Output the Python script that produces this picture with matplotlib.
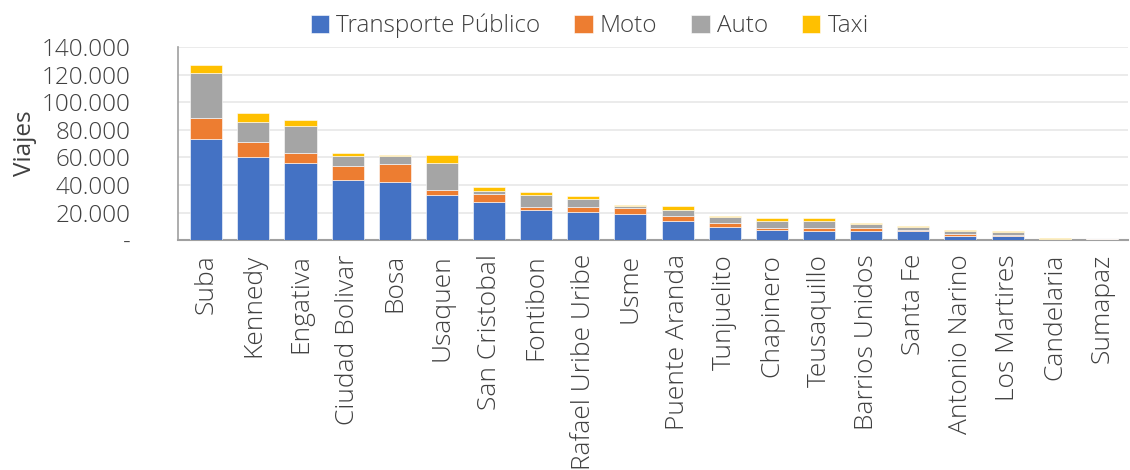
import matplotlib
matplotlib.use("Agg")
import matplotlib.pyplot as plt
from matplotlib.ticker import FuncFormatter

categories = ["Suba", "Kennedy", "Engativa", "Ciudad Bolivar", "Bosa", "Usaquen",
              "San Cristobal", "Fontibon", "Rafael Uribe Uribe", "Usme", "Puente Aranda",
              "Tunjuelito", "Chapinero", "Teusaquillo", "Barrios Unidos", "Santa Fe",
              "Antonio Narino", "Los Martires", "Candelaria", "Sumapaz"]
transporte_publico = [73000, 60000, 55700, 43900, 42200, 33000, 27800, 21900, 20500, 19000,
                      14000, 9600, 7500, 7000, 6500, 6500, 3100, 3100, 200, 100]
moto = [15700, 11100, 7700, 9800, 12700, 3600, 5800, 2200, 3600, 4400,
        3600, 2700, 1400, 1700, 2200, 700, 1500, 300, 100, 700]
auto = [32800, 14200, 19300, 7500, 6300, 19100, 2100, 8700, 5500, 1700,
        4300, 4300, 5300, 5500, 3100, 2000, 1900, 2600, 700, 0]
taxi = [5300, 6800, 4300, 1700, 700, 6000, 2800, 1900, 2700, 700,
        2900, 1200, 2200, 2200, 500, 1200, 700, 300, 300, 0]
series_names = ["Transporte Público", "Moto", "Auto", "Taxi"]
colors = ["#4472C4", "#ED7D31", "#A5A5A5", "#FFC000"]
yticks = [0, 20000, 40000, 60000, 80000, 100000, 120000, 140000]

plt.rcParams['font.family'] = ['Open Sans', 'DejaVu Sans']
plt.rcParams['font.weight'] = 'light'
txt = "#404040"
FS = 17.5

fig = plt.figure(figsize=(11.3, 4.7), dpi=100)
ax = fig.add_axes([0.1575, 0.489, 0.8405, 0.411])

x = list(range(len(categories)))
bottom = [0] * len(categories)
for name, vals, c in zip(series_names, [transporte_publico, moto, auto, taxi], colors):
    ax.bar(x, vals, bottom=bottom, width=0.68, color=c, label=name, zorder=3,
           edgecolor="white", linewidth=0.4)
    bottom = [b + v for b, v in zip(bottom, vals)]

ax.set_xlim(-0.6, len(categories) - 0.45)
ax.set_ylim(0, 140000)
ax.set_yticks(yticks)
ax.yaxis.set_major_formatter(FuncFormatter(
    lambda v, p: "-" if v == 0 else f"{int(v):,}".replace(",", ".")))
ax.grid(axis="y", color="#E8E8E8", linewidth=1.2, zorder=0)
ax.set_axisbelow(True)
for s in ["top", "right"]:
    ax.spines[s].set_visible(False)
ax.spines["left"].set_color("#A0A0A0")
ax.spines["bottom"].set_color("#A0A0A0")
ax.spines["left"].set_linewidth(1.2)
ax.spines["bottom"].set_linewidth(1.5)
ax.tick_params(axis="both", length=0, labelcolor=txt, labelsize=FS)
ax.tick_params(axis="y", pad=34)
ax.tick_params(axis="x", pad=10)
ax.set_xticks(x)
ax.set_xticklabels(categories, rotation=90, fontsize=19, color=txt)
ax.set_ylabel("Viajes", fontsize=FS, color=txt, labelpad=2)
ax.yaxis.set_label_coords(-0.148, 0.5)

fig.legend(loc="center", bbox_to_anchor=(0.522, 0.945), ncol=4, frameon=False,
           fontsize=FS, handlelength=0.75, handleheight=0.75, handletextpad=0.3,
           columnspacing=1.4, labelcolor=txt)

fig.savefig("out.png", dpi=100)
